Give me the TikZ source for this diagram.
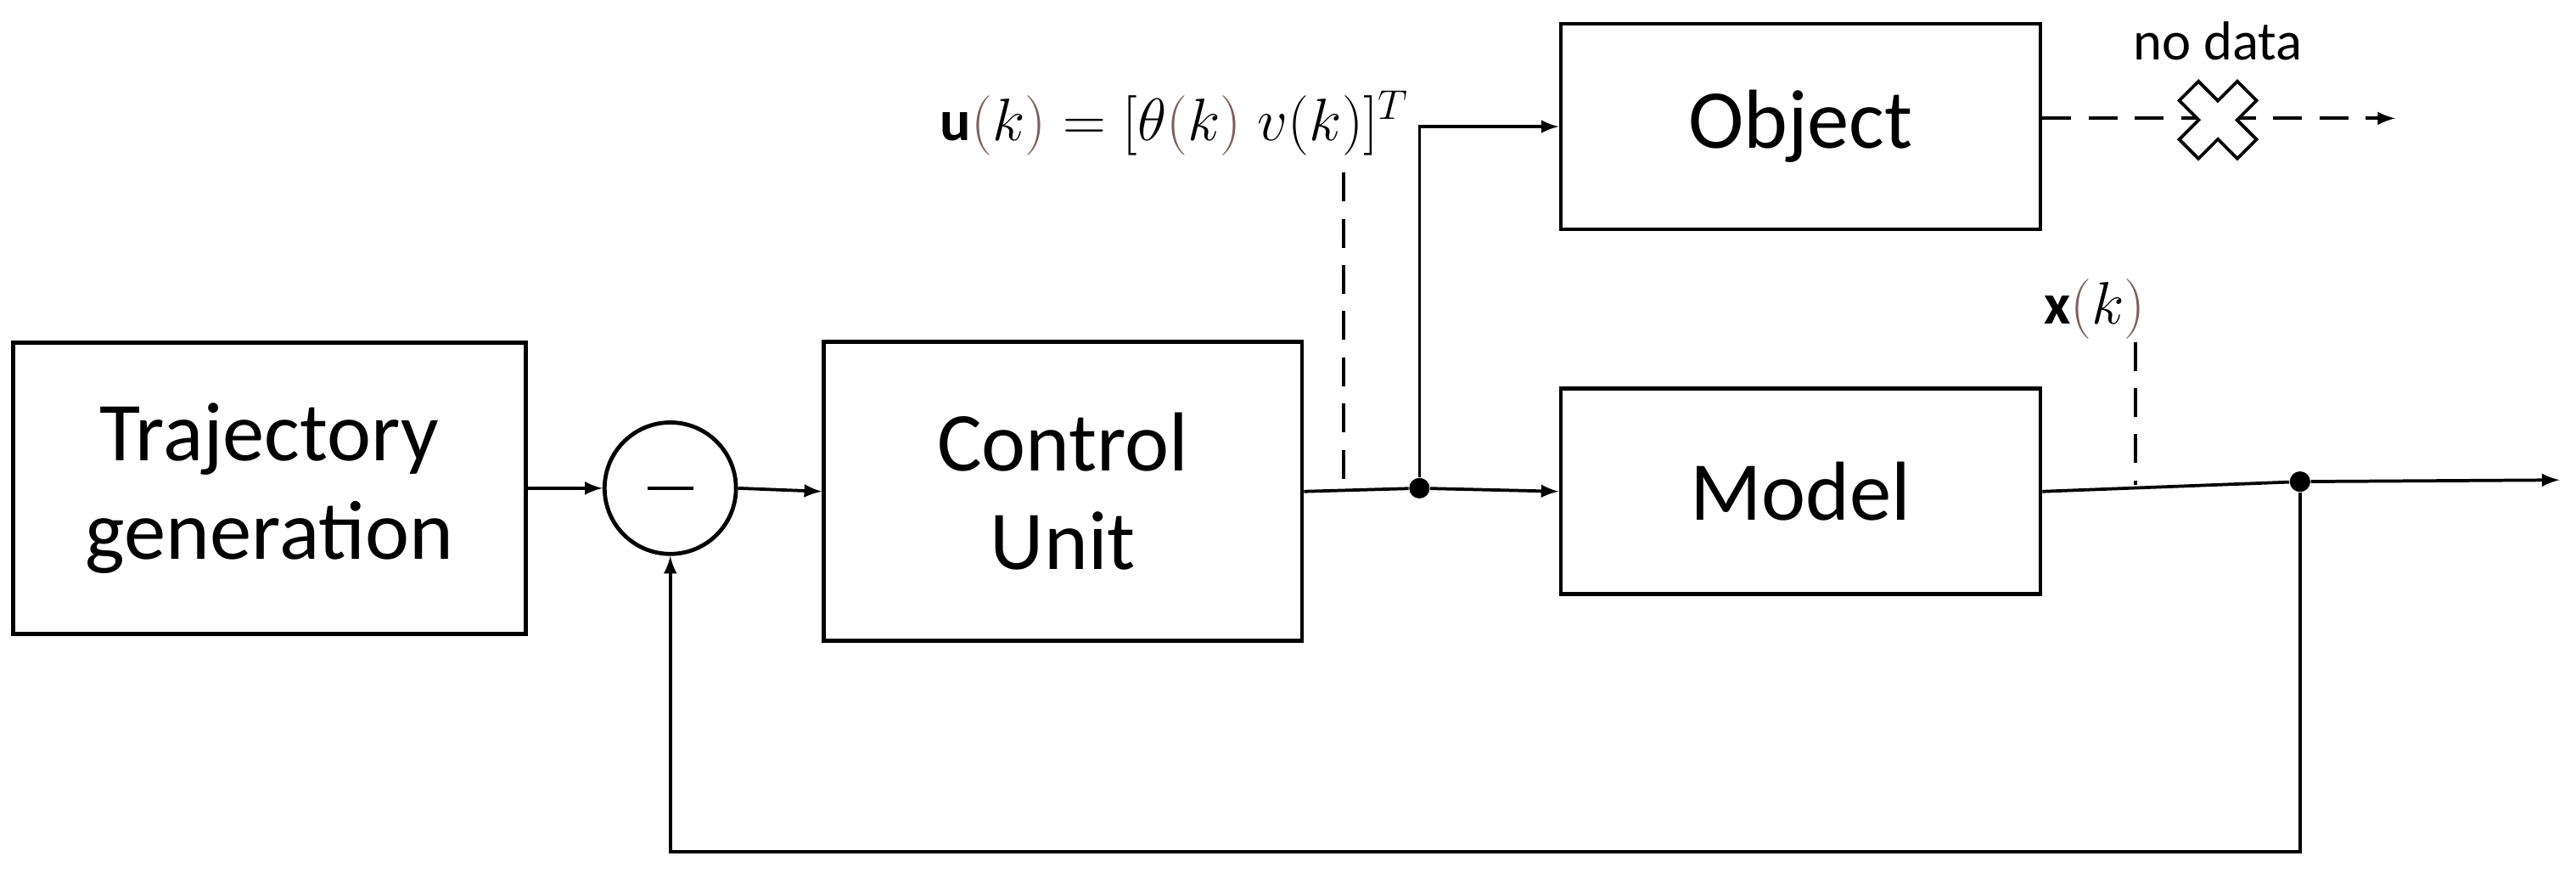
\documentclass[tikz,border=0pt]{standalone}
\usepackage{fontspec}
\setmainfont{Carlito}
\usepackage{amsmath}
\definecolor{parcol}{RGB}{125,95,90}
\newcommand{\bp}[1]{\textcolor{parcol}{(}#1\textcolor{parcol}{)}}
\tikzset{
  block/.style={draw,line width=1.4pt,minimum width=5.84cm,minimum height=2.5cm,align=center,font=\fontsize{29}{34}\selectfont},
  conn/.style={line width=1.1pt,-latex},
  dashedline/.style={line width=1.1pt,dash pattern=on 10pt off 6pt},
  dot/.style={circle,fill,inner sep=0pt,minimum size=0.25cm},
  lbl/.style={font=\fontsize{20}{24}\selectfont}
}
\begin{document}
\begin{tikzpicture}[x=0.02cm,y=-0.02cm]
\useasboundingbox (0,0) rectangle (1568,531);

\node[block,minimum width=6.24cm,minimum height=3.54cm] (traj) at (164,297) {Trajectory\\generation};
\node[draw,circle,line width=1.4pt,minimum size=1.6cm] (sum) at (408,297) {};
\draw[line width=1.4pt] (sum.center) ++(-14,0) -- ++(28,0);
\node[block,minimum width=5.82cm,minimum height=3.64cm] (ctrl) at (647,299) {Control\\Unit};
\node[block] (obj) at (1096,77) {Object};
\node[block] (model) at (1096,299) {Model};
\node[dot] (jct) at (864,297) {};
\node[dot] (out) at (1400,293) {};
\coordinate (end) at (1558,292);
\coordinate (nd) at (1458,72);
\coordinate (fb1) at (1400,518);
\coordinate (fb2) at (408,518);

\draw[conn] (traj.east) -- (sum.west);
\draw[conn] (sum.east) -- (ctrl.west);
\draw[line width=1.1pt] (ctrl.east) -- (jct);
\draw[conn] (jct) -- (model.west);
\draw[conn] (jct) |- (obj.west);
\draw[line width=1.1pt] (model.east) -- (out);
\draw[conn] (out) -- (end);
\draw[conn] (out) -- (fb1) -- (fb2) -- (sum.south);
\draw[dashedline,-latex] (obj.east |- nd) -- (nd);

% cross on the object output
\begin{scope}[shift={(1350,73)},rotate=45,x=0.5cm,y=0.5cm]
\draw[line width=1.1pt,fill=white] (0.33,1) -- (0.33,0.33) -- (1,0.33) -- (1,-0.33) -- (0.33,-0.33) -- (0.33,-1)
  -- (-0.33,-1) -- (-0.33,-0.33) -- (-1,-0.33) -- (-1,0.33) -- (-0.33,0.33) -- (-0.33,1) -- cycle;
\end{scope}
\node[font=\fontsize{19}{22}\selectfont] (nodata) at (1350,25) {no data};

% signal labels
\node[lbl] (ulbl) at (715,75) {$\mathbf{u}\bp{k}=[\theta\bp{k}\;v(k)]^T$};
\draw[dashedline] (818,105) -- (818,297);
\node[lbl] (xlbl) at (1275,188) {$\mathbf{x}\bp{k}$};
\draw[dashedline] (1300,208) -- (1300,295);
\end{tikzpicture}
\end{document}
